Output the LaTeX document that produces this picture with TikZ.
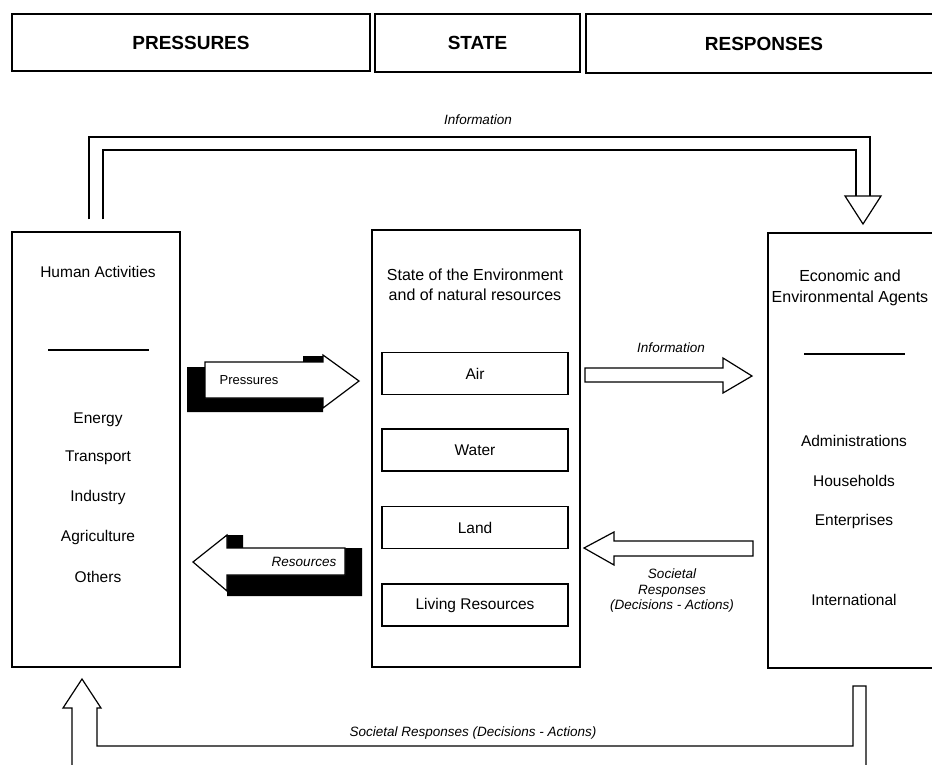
\documentclass[tikz,border=0pt]{standalone}
\usepackage{fontspec}
\setmainfont{Liberation Sans}
\usetikzlibrary{calc}
\begin{document}
\begin{tikzpicture}[x=1pt,y=-1pt,line join=miter,
  frame/.style={draw,line width=1.3pt,inner sep=0pt},
  header/.style={font=\fontsize{19}{21}\selectfont\bfseries},
  body/.style={font=\fontsize{15.5}{18}\selectfont},
  title/.style={font=\fontsize{16}{20.5}\selectfont,align=center},
  small/.style={font=\fontsize{13.5}{15.5}\selectfont\itshape},
  hollow/.style={draw,fill=white,line width=1.2pt},
  shade/.style={fill=black},
  rail/.style={line width=1.2pt}]
\useasboundingbox (0,0) rectangle (932,765);

% column headers
\node[frame,header,minimum width=358pt,minimum height=57pt] (hp) at (191,42.5) {PRESSURES};
\node[frame,header,minimum width=205pt,minimum height=58pt] (hs) at (477.5,43) {STATE};
\node[frame,header,minimum width=356pt,minimum height=59pt] (hr) at (764,43.5) {RESPONSES};

% three main blocks
\node[frame,minimum width=168pt,minimum height=435pt] (hum) at (96,449.5) {};
\node[frame,minimum width=208pt,minimum height=437pt] (env) at (476,448.5) {};
\node[frame,minimum width=172pt,minimum height=435pt] (agt) at (854,450.5) {};

% human activities
\node[body] (humt) at (98,272) {Human Activities};
\draw[line width=1.3pt] (48,350) -- (149,350);
\node[body] (en) at (98,420) {Energy};
\node[body] (tr) at (98,458) {Transport};
\node[body] (in) at (98,497) {Industry};
\node[body] (ag) at (98,537) {Agriculture};
\node[body] (ot) at (98,577) {Others};

% state of the environment
\node[title] (envt) at (475,285) {State of the Environment\\and of natural resources};
\node[frame,body,minimum width=186pt,minimum height=42pt] (air) at (475,373.5) {Air};
\node[frame,body,minimum width=186pt,minimum height=42pt] (wat) at (475,450) {Water};
\node[frame,body,minimum width=186pt,minimum height=42pt] (lan) at (475,527.5) {Land};
\node[frame,body,minimum width=186pt,minimum height=42pt] (liv) at (475,605) {Living Resources};

% agents
\node[title] (agtt) at (850,288) {Economic and\\Environmental Agents};
\draw[line width=1.3pt] (804,354) -- (905,354);
\node[body] (adm) at (854,441) {Administrations};
\node[body] (hou) at (854,481) {Households};
\node[body] (ent) at (854,521) {Enterprises};
\node[body] (int) at (854,600) {International};

% pressures arrow (with black extrusion)
\fill[shade] (187,367) -- (303,367) -- (303,356) -- (323,356) -- (323,412) -- (187,412) -- cycle;
\draw[hollow] (205,362) -- (323,362) -- (323,355) -- (359,381) -- (323,408) -- (323,398) -- (205,398) -- cycle;
\node[font=\fontsize{13}{15}\selectfont] (prl) at (249,380) {Pressures};

% resources arrow (with black extrusion)
\fill[shade] (227,535) -- (243,535) -- (243,548) -- (362,548) -- (362,596) -- (227,596) -- cycle;
\draw[hollow] (193,562) -- (227,535) -- (227,548) -- (345,548) -- (345,575) -- (227,575) -- (227,591) -- cycle;
\node[small] (rsl) at (304,562) {Resources};

% information arrow towards agents
\draw[hollow] (585,368) -- (723,368) -- (723,358) -- (752,376) -- (723,393) -- (723,382) -- (585,382) -- cycle;
\node[small] (inl) at (671,348) {Information};

% societal responses arrow towards environment
\draw[hollow] (584,548) -- (614,532) -- (614,541) -- (753,541) -- (753,556) -- (614,556) -- (614,565) -- cycle;
\node[small,align=center] (srl) at (672,591) {Societal\\Responses\\(Decisions - Actions)};

% upper feedback: information from activities to agents
\draw[rail] ($(hum.north)+(-7,-12)$) |- (870,137) -- (870,196);
\draw[rail] ($(hum.north)+(7,-12)$) |- (856,150) -- (856,196);
\draw[hollow] (845,196) -- (881,196) -- (863,224) -- cycle;
\node[small] (infl) at (478,120) {Information};

% lower feedback: societal responses from agents to activities
\draw[rail] (866,765) -- (866,686) -- (853,686) -- (853,746) -- (97,746) -- (97,708) -- (101,708)
  -- (82,679) -- (63,708) -- (72,708) -- (72,765);
\node[small] (sfl) at (473,733) {Societal Responses (Decisions - Actions)};
\end{tikzpicture}
\end{document}
